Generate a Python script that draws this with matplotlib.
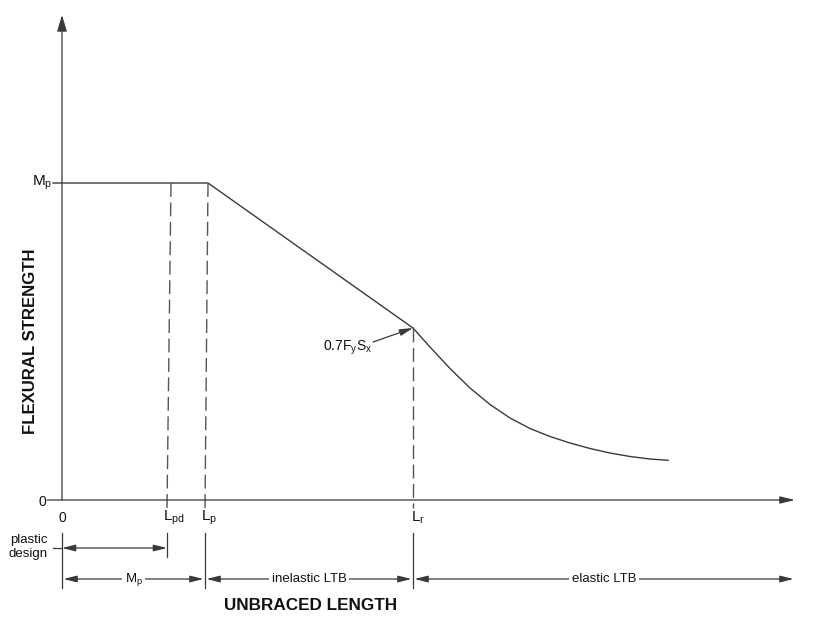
import matplotlib
matplotlib.use('Agg')
import matplotlib.pyplot as plt

plt.rcParams['font.family'] = ['Liberation Sans', 'DejaVu Sans']
plt.rcParams['mathtext.fontset'] = 'custom'
plt.rcParams['mathtext.rm'] = 'Liberation Sans'
plt.rcParams['mathtext.it'] = 'Liberation Sans'
plt.rcParams['lines.scale_dashes'] = False

# diagram values (arbitrary length / moment units)
M_p = 317
M_r = 172
L_pd = 105
L_p = 143
L_r = 351
x_axis_end = 733
y_axis_end = 485

# plateau and inelastic branch
plastic_x = [-9, 146, L_r]
plastic_y = [M_p, M_p, M_r]

# elastic LTB branch
elastic_x = [351, 368, 388, 408, 428, 448, 468, 488, 508, 528, 548,
             568, 588, 606]
elastic_y = [172, 153, 131.5, 112, 95.5, 82, 71.5, 63.5, 57, 51.5, 47,
             43.5, 41, 39.7]

# dashed drops: (top x, bottom x, top y)
drops = [(109, L_pd, M_p), (146, L_p, M_p), (L_r, L_r, M_r)]

tick_labels = [(0, '0', 'center', 10),
               (101, r'$\mathregular{L_{pd}}$', 'left', 11),
               (139, r'$\mathregular{L_p}$', 'left', 11),
               (349, r'$\mathregular{L_r}$', 'left', 11)]

zones = [(0, L_p, r'$\mathregular{M_p}$'),
         (L_p, L_r, 'inelastic LTB'),
         (L_r, x_axis_end, 'elastic LTB')]

line_c = '#3a3a3a'
text_c = '#111111'

fig = plt.figure(figsize=(8.14, 6.19), dpi=100)
ax = fig.add_axes([0, 0, 1, 1])
ax.set_xlim(-62, 752)
ax.set_ylim(-119, 500)
ax.axis('off')


def arrow(p0, p1, style, scale=10):
    ax.annotate('', xy=p1, xytext=p0,
                arrowprops=dict(arrowstyle=style, color=line_c, lw=0.9,
                                shrinkA=0, shrinkB=0, mutation_scale=scale))


# axes with arrow heads
arrow((-15, 0), (x_axis_end, 0), '-|>,head_length=0.9,head_width=0.22')
arrow((0, 0), (0, y_axis_end), '-|>,head_length=1.0,head_width=0.3')

# strength curve
ax.plot(plastic_x, plastic_y, color=line_c, lw=1.0)
ax.plot(elastic_x, elastic_y, color=line_c, lw=1.0)

for x_top, x_bot, y_top in drops:
    ax.plot([x_top, x_bot], [y_top, -8], color='#555555', lw=1.0,
            dashes=(10, 4))

ax.text(-10, M_p, r'$\mathregular{M_p}$', ha='right', va='center',
        fontsize=11, color=text_c)
ax.text(-20, -2, '0', ha='center', va='center', fontsize=10, color=text_c)

for x, lab, ha, fs in tick_labels:
    ax.text(x, -18, lab, ha=ha, va='center', fontsize=fs, color=text_c)

# 0.7FySx callout
ax.text(310, 152, r'$\mathregular{0.7F_yS_x}$', ha='right', va='center',
        fontsize=10, color=text_c)
arrow((311, 158), (L_r, M_r), '-|>,head_length=0.8,head_width=0.2')

# extension lines below the axis
for x, y_bot in [(0, -88), (L_pd, -57), (L_p, -88), (L_r, -88)]:
    ax.plot([x, x], [-33, y_bot], color=line_c, lw=0.9)

# plastic design dimension
ax.plot([-9, 0], [-48, -48], color=line_c, lw=0.9)
arrow((0, -48), (L_pd, -48), '<|-|>,head_length=0.8,head_width=0.2')
ax.text(-14, -47, 'plastic\ndesign', ha='right', va='center',
        multialignment='center', fontsize=9.5, color=text_c, linespacing=1.2)

# zone dimensions
for x0, x1, lab in zones:
    arrow((x0 + 1.5, -79), (x1 - 1.5, -79),
          '<|-|>,head_length=0.8,head_width=0.2')
    ax.text((x0 + x1) / 2, -79, lab, ha='center', va='center', fontsize=9.5,
            color=text_c,
            bbox=dict(facecolor='white', edgecolor='none', pad=2))

ax.text(249, -105, 'UNBRACED LENGTH', ha='center', va='center',
        fontsize=12.3, fontweight='bold', color=text_c)
ax.text(-31, 159, 'FLEXURAL STRENGTH', ha='center', va='center',
        rotation=90, fontsize=12.1, fontweight='bold', color=text_c)

plt.savefig('out.png', dpi=100)
plt.close()
print("Saved: out.png")
